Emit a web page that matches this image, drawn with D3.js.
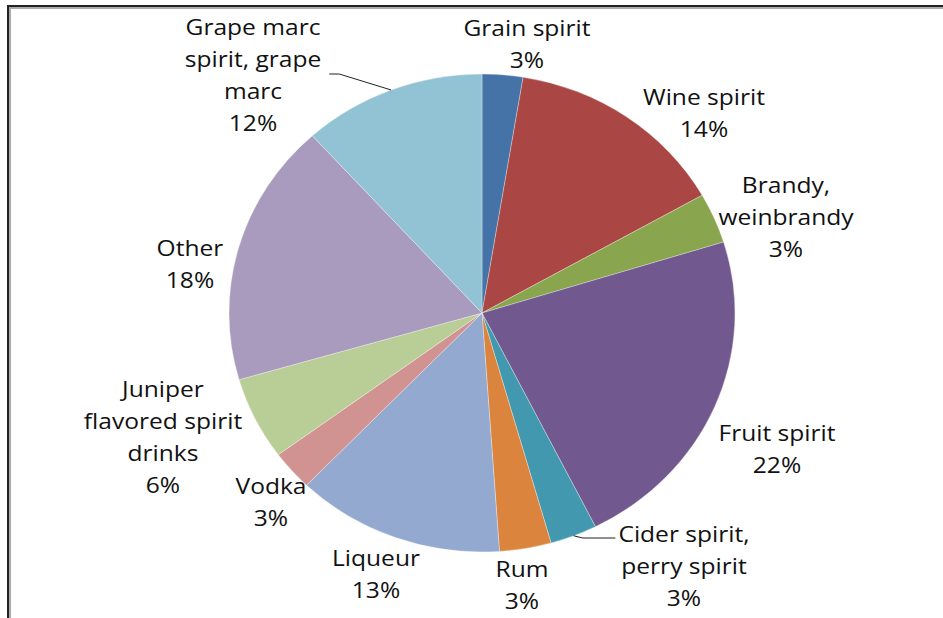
<!DOCTYPE html>
<html>
<head>
<meta charset="utf-8">
<script src="https://cdn.jsdelivr.net/npm/d3@7"></script>
<style>
  html, body { margin: 0; padding: 0; background: #fff; }
  svg { display: block; }
  text { font-family: "Open Sans", "Noto Sans", sans-serif; }
</style>
</head>
<body>
<svg id="chart" width="943" height="618"></svg>
<script>
// ---- data ----
const categories = ["Grain spirit", "Wine spirit", "Brandy, weinbrandy", "Fruit spirit",
  "Cider spirit, perry spirit", "Rum", "Liqueur", "Vodka", "Juniper flavored spirit drinks",
  "Other", "Grape marc spirit, grape marc"];
const shares = [2.6, 14.2, 3.4, 22.4, 3.0, 3.3, 13.3, 2.7, 5.6, 17.8, 11.7];
const colors = ["#4572A7", "#AA4643", "#89A54E", "#71588F", "#4198AF", "#DB843D",
  "#93A9CF", "#D19392", "#B9CD96", "#A99BBD", "#92C3D4"];

// ---- layout (label text centres: x, first baseline, wrap width) ----
const labelLayout = {
  "Grain spirit": { x: 527, y: 36, wrap: 400 },
  "Wine spirit": { x: 704, y: 105, wrap: 400 },
  "Brandy, weinbrandy": { x: 786, y: 193, wrap: 150 },
  "Fruit spirit": { x: 777, y: 441, wrap: 400 },
  "Cider spirit, perry spirit": { x: 684, y: 542, wrap: 140, leader: true },
  "Rum": { x: 522, y: 577, wrap: 400 },
  "Liqueur": { x: 376, y: 566, wrap: 400 },
  "Vodka": { x: 271, y: 494, wrap: 400 },
  "Juniper flavored spirit drinks": { x: 163, y: 397, wrap: 166 },
  "Other": { x: 190, y: 256, wrap: 400 },
  "Grape marc spirit, grape marc": { x: 253, y: 35, wrap: 145, leader: true }
};
const lineH = 32;
const fontSize = 21;
const stretch = 1.17;
const cx = 482, cy = 313, rx = 253, ry = 239;

const svg = d3.select("#chart");

// frame (top and left edge of the cropped chart area)
svg.append("line").attr("x1", 7).attr("x2", 943).attr("y1", 8).attr("y2", 8)
  .attr("stroke", "#aaa").attr("stroke-width", 2);
svg.append("line").attr("x1", 10).attr("x2", 10).attr("y1", 7).attr("y2", 618)
  .attr("stroke", "#aaa").attr("stroke-width", 2);
svg.append("line").attr("x1", 7).attr("x2", 943).attr("y1", 6).attr("y2", 6)
  .attr("stroke", "#222").attr("stroke-width", 2);
svg.append("line").attr("x1", 8).attr("x2", 8).attr("y1", 5).attr("y2", 618)
  .attr("stroke", "#222").attr("stroke-width", 2);

const data = categories.map((c, i) => ({ name: c, value: shares[i], color: colors[i] }));
const pie = d3.pie().sort(null).value(d => d.value);
const arcs = pie(data);
const arc = d3.arc().innerRadius(0).outerRadius(ry);

const g = svg.append("g").attr("transform", `translate(${cx},${cy}) scale(${rx / ry},1)`);
g.selectAll("path").data(arcs).join("path")
  .attr("d", arc)
  .attr("fill", d => d.data.color)
  .attr("stroke", "rgba(255,255,255,0.45)")
  .attr("stroke-width", 0.7)
  .attr("vector-effect", "non-scaling-stroke");

// helper: point on the ellipse edge at angle a
const edge = a => [cx + rx * Math.sin(a), cy - ry * Math.cos(a)];

// labels
const labels = svg.append("g");
const measurer = svg.append("text").attr("font-size", fontSize).attr("visibility", "hidden");
const textW = s => { measurer.text(s); return measurer.node().getComputedTextLength() * stretch; };
function wrap(str, maxW) {
  const words = str.split(" ");
  const lines = [];
  let cur = "";
  words.forEach(w => {
    const test = cur ? cur + " " + w : w;
    if (cur && textW(test) > maxW) { lines.push(cur); cur = w; }
    else cur = test;
  });
  if (cur) lines.push(cur);
  return lines;
}

arcs.forEach(a => {
  const L = labelLayout[a.data.name];
  const lines = wrap(a.data.name, L.wrap);
  lines.push(Math.round(a.data.value) + "%");
  const t = labels.append("text")
    .attr("transform", `translate(${L.x},0) scale(${stretch},1)`)
    .attr("text-anchor", "middle")
    .attr("font-size", fontSize)
    .attr("fill", "#111");
  lines.forEach((ln, i) => {
    t.append("tspan").attr("x", 0).attr("y", L.y + i * lineH).text(ln);
  });
  if (L.leader) {
    const mid = (a.startAngle + a.endAngle) / 2;
    const p = edge(mid);
    const maxW = d3.max(lines, textW);
    let pts;
    if (Math.sin(mid) < 0) {
      const right = L.x + maxW / 2;
      const ly = L.y + lineH + 7;
      pts = [[right + 8, ly], [right + 18, ly], p];
    } else {
      const left = L.x - maxW / 2;
      const ly = L.y - 4;
      pts = [p, [p[0] + 9, ly], [left - 3, ly]];
    }
    labels.append("path")
      .attr("d", d3.line()(pts))
      .attr("fill", "none")
      .attr("stroke", "#222")
      .attr("stroke-width", 1);
  }
});
measurer.remove();
</script>
</body>
</html>
